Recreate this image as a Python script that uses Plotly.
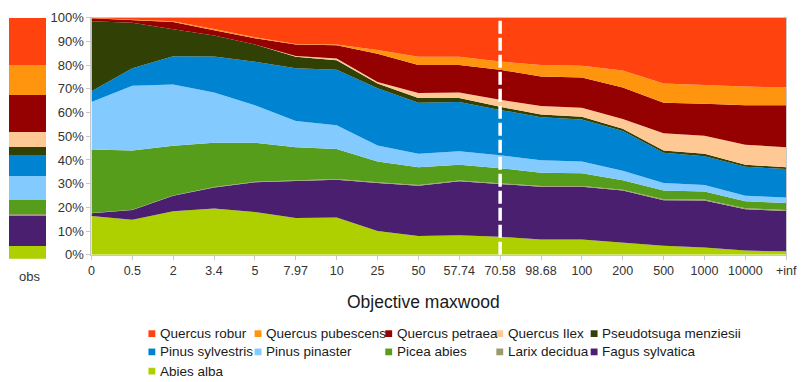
import plotly.graph_objects as go

# Objective values for maxwood (x categories)
categories = ["0", "0.5", "2", "3.4", "5", "7.97", "10", "25", "50", "57.74",
              "70.58", "98.68", "100", "200", "500", "1000", "10000", "+inf"]

# Species shares (%) per objective, listed from bottom to top of the stack
abies_alba = [16.4, 14.8, 18.4, 19.5, 18.1, 15.5, 15.8, 10.1, 7.9, 8.3, 7.6, 6.5, 6.5, 5.2, 3.8, 3.1, 1.8, 1.5]
fagus_sylvatica = [1.1, 4.1, 6.5, 8.9, 12.5, 15.5, 15.9, 20.2, 21.2, 22.7, 22.2, 22.2, 22.2, 21.9, 19.2, 19.8, 17.4, 17.0]
larix_decidua = [0.1, 0.1, 0.1, 0.2, 0.2, 0.3, 0.3, 0.3, 0.3, 0.3, 0.3, 0.3, 0.3, 0.3, 0.4, 0.4, 0.4, 0.4]
picea_abies = [26.8, 25.0, 21.0, 18.7, 16.4, 14.0, 12.6, 8.7, 7.5, 6.7, 6.4, 5.6, 5.4, 4.0, 3.7, 3.4, 3.0, 3.0]
pinus_pinaster = [20.0, 27.3, 25.8, 21.1, 15.8, 11.1, 10.0, 6.8, 5.7, 5.7, 5.5, 5.3, 4.9, 4.1, 3.2, 2.7, 2.3, 2.3]
pinus_sylvestris = [4.5, 7.3, 11.9, 15.2, 18.4, 22.2, 23.4, 24.1, 21.5, 20.7, 19.1, 18.1, 17.7, 16.7, 12.7, 12.2, 12.2, 12.0]
pseudotsuga_menziesii = [29.6, 19.2, 11.4, 8.8, 7.2, 4.9, 4.0, 2.0, 2.0, 1.7, 1.3, 1.2, 1.2, 1.0, 1.0, 1.0, 0.9, 0.7]
quercus_ilex = [0.0, 0.0, 0.0, 0.0, 0.0, 0.3, 0.7, 0.7, 2.1, 2.3, 3.0, 3.5, 3.8, 4.1, 7.2, 7.6, 8.4, 8.5]
quercus_petraea = [1.2, 1.2, 3.0, 2.3, 2.7, 4.8, 5.6, 11.9, 11.8, 11.6, 12.6, 12.5, 12.7, 13.2, 12.9, 13.5, 16.7, 17.7]
quercus_pubescens = [0.1, 0.2, 0.4, 0.5, 0.4, 0.3, 0.4, 1.5, 3.5, 3.5, 3.5, 4.8, 5.0, 7.2, 8.1, 7.9, 7.8, 7.5]
quercus_robur = [0.2, 0.8, 1.5, 4.8, 8.3, 11.1, 11.3, 13.7, 16.5, 16.5, 18.5, 20.0, 20.3, 22.3, 27.8, 28.4, 29.1, 29.4]

# Observed composition (%)
obs_label = "obs"
obs_values = {
    "Abies alba": 5.4, "Fagus sylvatica": 12.6, "Larix decidua": 0.7, "Picea abies": 6.0,
    "Pinus pinaster": 9.7, "Pinus sylvestris": 8.7, "Pseudotsuga menziesii": 3.3,
    "Quercus Ilex": 6.3, "Quercus petraea": 15.3, "Quercus pubescens": 12.4, "Quercus robur": 19.6,
}

# Reference objective marked by the dashed line
marked_objective = "70.58"

species = [
    ("Abies alba", abies_alba, "#aecf00"),
    ("Fagus sylvatica", fagus_sylvatica, "#4b1f6f"),
    ("Larix decidua", larix_decidua, "#9c9c6a"),
    ("Picea abies", picea_abies, "#579d1c"),
    ("Pinus pinaster", pinus_pinaster, "#83caff"),
    ("Pinus sylvestris", pinus_sylvestris, "#0084d1"),
    ("Pseudotsuga menziesii", pseudotsuga_menziesii, "#314004"),
    ("Quercus Ilex", quercus_ilex, "#ffc996"),
    ("Quercus petraea", quercus_petraea, "#950000"),
    ("Quercus pubescens", quercus_pubescens, "#ff950e"),
    ("Quercus robur", quercus_robur, "#ff420e"),
]
colors = {name: c for name, _, c in species}

legend_order = [
    ["Quercus robur", "Quercus pubescens", "Quercus petraea", "Quercus Ilex", "Pseudotsuga menziesii"],
    ["Pinus sylvestris", "Pinus pinaster", "Picea abies", "Larix decidua", "Fagus sylvatica"],
    ["Abies alba"],
]

W, H = 810, 382
FONT = "Liberation Sans, Arial, sans-serif"


def px(x):
    return x / W


def py(y):
    return 1 - y / H


fig = go.Figure()

for name, vals, color in species:
    fig.add_trace(go.Scatter(
        x=categories, y=vals, name=name, stackgroup="main", mode="lines",
        line=dict(width=0, color=color), fillcolor=color,
        showlegend=False, xaxis="x", yaxis="y",
    ))

for name, _, color in species:
    fig.add_trace(go.Bar(
        x=[obs_label], y=[obs_values[name]], name=name, marker=dict(color=color, line=dict(width=0)),
        width=1, showlegend=False, xaxis="x2", yaxis="y2",
    ))

shapes = []
annotations = []

# dashed marker on the reference objective
shapes.append(dict(type="line", xref="x", yref="y",
                   x0=categories.index(marked_objective), x1=categories.index(marked_objective),
                   y0=0, y1=100, line=dict(color="white", width=3.5, dash="13px,4px"), layer="above"))

# hand-placed legend grid
col_x = [148, 256, 389, 502, 598]
row_y = [340, 359, 379]
for r, row in enumerate(legend_order):
    for c, name in enumerate(row):
        x0 = col_x[c]
        yc = row_y[r]
        shapes.append(dict(type="rect", xref="paper", yref="paper",
                           x0=px(x0), x1=px(x0 + 7), y0=py(yc + 3.5), y1=py(yc - 3.5),
                           fillcolor=colors[name], line=dict(width=0)))
        annotations.append(dict(text=name, xref="paper", yref="paper", x=px(x0 + 10), y=py(yc),
                                xanchor="left", yanchor="middle", showarrow=False,
                                font=dict(family=FONT, size=13.5, color="#1a1a1a")))

annotations.append(dict(text="Objective maxwood", xref="paper", yref="paper", x=px(428), y=py(307),
                        xanchor="center", yanchor="middle", showarrow=False,
                        font=dict(family=FONT, size=17.5, color="#1a1a1a")))
annotations.append(dict(text=obs_label, xref="paper", yref="paper", x=px(27), y=py(280),
                        xanchor="center", yanchor="middle", showarrow=False,
                        font=dict(family=FONT, size=13, color="#333333")))

fig.update_layout(
    width=W, height=H, margin=dict(l=0, r=0, t=0, b=0),
    paper_bgcolor="white", plot_bgcolor="white",
    barmode="stack", bargap=0,
    xaxis=dict(domain=[px(90), px(797)], type="category", range=[0, len(categories) - 1],
               showgrid=False, zeroline=False, showline=True, linecolor="#c8c8c8", mirror=True,
               ticks="outside", ticklen=4, tickcolor="#c8c8c8",
               tickfont=dict(family=FONT, size=12.5, color="#333333")),
    yaxis=dict(domain=[py(258), py(11)], range=[0, 100], dtick=10, ticksuffix="%",
               showgrid=False, zeroline=False, showline=True, linecolor="#c8c8c8", mirror=True,
               ticks="outside", ticklen=4, tickcolor="#c8c8c8",
               tickfont=dict(family=FONT, size=13, color="#333333")),
    xaxis2=dict(domain=[px(6), px(44)], anchor="y2", type="category", range=[-0.5, 0.5],
                showticklabels=False, showgrid=False, zeroline=False, showline=False, ticks=""),
    yaxis2=dict(domain=[py(262), py(11)], anchor="x2", range=[0, 100],
                showticklabels=False, showgrid=False, zeroline=False, showline=False, ticks=""),
    shapes=shapes, annotations=annotations,
)

fig.write_html("out.html")
